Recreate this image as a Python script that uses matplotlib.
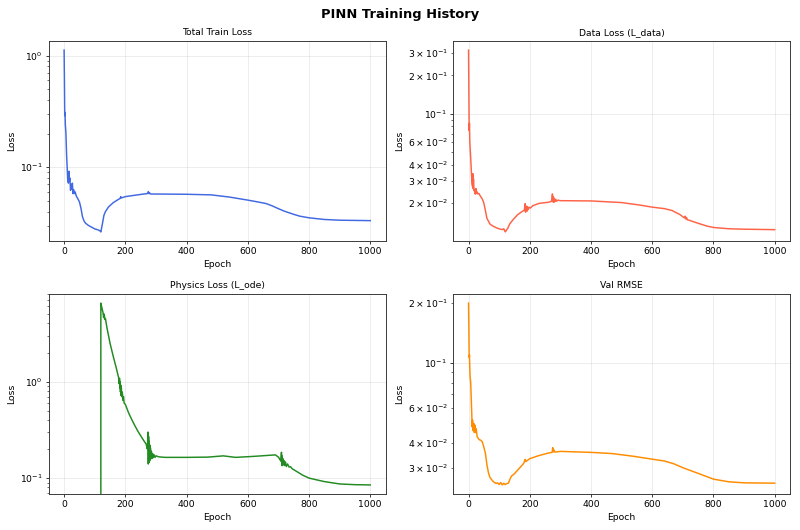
import numpy as np
import matplotlib
matplotlib.use("Agg")
import matplotlib.pyplot as plt
from matplotlib.ticker import LogFormatterSciNotation

# values (epoch, value) pairs
train_ep = [0, 1, 2, 3, 4, 5, 6, 8, 10, 12, 13, 14, 16, 17, 19, 21, 23, 25, 27, 29, 31, 33, 36, 40,
            45, 50, 55, 60, 65, 70, 80, 90, 100, 110, 118, 120, 125, 130, 135, 145, 160, 175, 183,
            185, 187, 200, 230, 260, 272, 275, 277, 279, 282, 300, 400, 480, 540, 600, 630, 660,
            680, 700, 720, 750, 770, 800, 850, 900, 1000]
train_loss = [1.12, 0.6, 0.29, 0.31, 0.24, 0.22, 0.2, 0.13, 0.1, 0.075, 0.09, 0.072, 0.092, 0.075,
              0.08, 0.062, 0.07, 0.064, 0.072, 0.058, 0.063, 0.058, 0.06, 0.055, 0.052, 0.049,
              0.043, 0.036, 0.033, 0.0315, 0.030, 0.029, 0.028, 0.0275, 0.0268, 0.0263, 0.031,
              0.037, 0.040, 0.044, 0.048, 0.051, 0.0525, 0.0545, 0.053, 0.0545, 0.056, 0.0575,
              0.058, 0.0605, 0.058, 0.059, 0.0575, 0.0575, 0.0572, 0.0565, 0.054, 0.0507, 0.049,
              0.0472, 0.0450, 0.0425, 0.0403, 0.0378, 0.0364, 0.0352, 0.034, 0.0335, 0.0332]

data_ep = [0, 1, 2, 3, 4, 5, 7, 9, 11, 13, 14, 15, 16, 18, 20, 22, 24, 26, 28, 30, 34, 38, 45, 50,
           55, 60, 70, 80, 95, 110, 115, 118, 120, 124, 128, 135, 145, 160, 175, 182, 185, 186,
           188, 190, 192, 195, 198, 202, 210, 230, 260, 270, 272, 274, 275, 277, 278, 280, 282,
           285, 288, 292, 300, 400, 500, 560, 600, 640, 665, 690, 705, 708, 710, 712, 715, 720,
           750, 780, 800, 850, 900, 1000]
data_loss = [0.315, 0.15, 0.074, 0.084, 0.062, 0.055, 0.045, 0.036, 0.029, 0.027, 0.034, 0.026,
             0.031, 0.025, 0.0255, 0.0235, 0.026, 0.0238, 0.0245, 0.0236, 0.0238, 0.0228, 0.0215,
             0.020, 0.0175, 0.0152, 0.0137, 0.0132, 0.0127, 0.0124, 0.0126, 0.0122, 0.0119,
             0.0123, 0.0127, 0.0138, 0.0148, 0.0162, 0.0172, 0.0176, 0.0198, 0.017, 0.019, 0.0172,
             0.0188, 0.0178, 0.0186, 0.0183, 0.0191, 0.0199, 0.0203, 0.0206, 0.0212, 0.0236,
             0.0205, 0.0225, 0.0203, 0.0218, 0.0205, 0.0214, 0.0207, 0.0211, 0.0209, 0.0208,
             0.0202, 0.0193, 0.0186, 0.0181, 0.0175, 0.0163, 0.0153, 0.0158, 0.015, 0.0154,
             0.0148, 0.0147, 0.0139, 0.0132, 0.0129, 0.0126, 0.0125, 0.0124]

ode_ep = [0, 119, 120, 123, 127, 129, 131, 133, 135, 140, 150, 160, 170, 178, 180, 181, 182, 183,
          184, 185, 186, 187, 188, 190, 192, 194, 196, 200, 210, 220, 230, 240, 250, 260, 268,
          272, 274, 275, 276, 277, 278, 279, 280, 281, 282, 283, 285, 287, 289, 291, 294, 297,
          300, 310, 330, 400, 470, 520, 560, 620, 690, 700, 708, 710, 711, 712, 713, 714, 716,
          718, 720, 723, 726, 730, 735, 740, 745, 760, 780, 800, 850, 900, 950, 1000]
ode_loss = [0.0, 0.0, 6.5, 5.9, 5.2, 4.6, 5.0, 4.4, 4.5, 3.6, 2.5, 1.85, 1.4, 1.1, 0.95, 1.08,
            0.85, 1.0, 0.78, 0.92, 0.72, 0.85, 0.7, 0.78, 0.64, 0.7, 0.6, 0.58, 0.48, 0.41,
            0.355, 0.31, 0.275, 0.245, 0.225, 0.2, 0.3, 0.14, 0.27, 0.145, 0.24, 0.15, 0.22,
            0.155, 0.205, 0.158, 0.19, 0.16, 0.18, 0.163, 0.174, 0.164, 0.17, 0.166, 0.164, 0.164,
            0.165, 0.17, 0.164, 0.168, 0.174, 0.165, 0.15, 0.185, 0.135, 0.17, 0.135, 0.16, 0.138,
            0.152, 0.135, 0.147, 0.132, 0.14, 0.13, 0.131, 0.125, 0.117, 0.107, 0.1, 0.092, 0.087,
            0.0855, 0.085]

val_ep = [0, 1, 2, 3, 4, 5, 7, 9, 11, 12, 13, 15, 17, 19, 21, 23, 25, 28, 32, 35, 40, 45, 50, 55,
          60, 65, 70, 80, 90, 95, 100, 105, 110, 115, 120, 125, 130, 135, 140, 150, 165, 180,
          185, 187, 200, 230, 260, 273, 275, 277, 279, 282, 300, 400, 470, 540, 600, 640, 670,
          700, 750, 780, 800, 850, 900, 1000]
val_rmse = [0.20, 0.15, 0.107, 0.11, 0.095, 0.086, 0.08, 0.065, 0.053, 0.048, 0.052, 0.046, 0.05,
            0.045, 0.049, 0.045, 0.047, 0.043, 0.042, 0.0414, 0.0412, 0.0404, 0.038, 0.0355,
            0.031, 0.0283, 0.0268, 0.0256, 0.025, 0.0252, 0.0247, 0.0253, 0.0246, 0.0251,
            0.0247, 0.025, 0.0251, 0.0262, 0.0272, 0.028, 0.0297, 0.0315, 0.033, 0.0322, 0.0333,
            0.0345, 0.0355, 0.0358, 0.0378, 0.036, 0.0368, 0.0359, 0.0362, 0.0358, 0.0353,
            0.0342, 0.0331, 0.0324, 0.0314, 0.0300, 0.0281, 0.0270, 0.0263, 0.0255, 0.0252, 0.0251]

panels = [
    (train_ep, train_loss, "royalblue", "Total Train Loss", False),
    (data_ep, data_loss, "tomato", "Data Loss (L_data)", True),
    (ode_ep, ode_loss, "forestgreen", "Physics Loss (L_ode)", False),
    (val_ep, val_rmse, "darkorange", "Val RMSE", True),
]

DPI = 800 / 12
fig, axes = plt.subplots(2, 2, figsize=(12, 530 / DPI), dpi=DPI)
fig.suptitle("PINN Training History", fontsize=14, fontweight="bold", y=0.985)

for ax, (ep, vals, col, title, minor_lbl) in zip(axes.flat, panels):
    ax.plot(ep, vals, color=col, linewidth=1.6)
    ax.set_yscale("log")
    ax.set_title(title, fontsize=10)
    ax.set_xlabel("Epoch")
    ax.set_ylabel("Loss")
    ax.grid(True, alpha=0.3)
    if minor_lbl:
        # short range: label 2,3,4,6 x 10^n as well
        ax.yaxis.set_minor_formatter(
            LogFormatterSciNotation(labelOnlyBase=False, minor_thresholds=(2, 0.4)))
    for s in ax.spines.values():
        s.set_linewidth(1.0)
        s.set_color("#333333")

fig.subplots_adjust(left=0.061, right=0.9875, top=0.9226, bottom=0.0679,
                    wspace=0.201, hspace=0.265)
plt.savefig("out.png", dpi=DPI)
